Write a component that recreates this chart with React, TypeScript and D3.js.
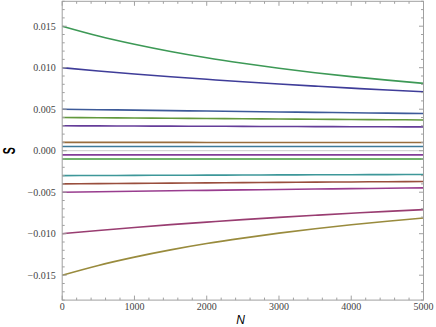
import React from "react";
import * as d3 from "d3";

const W = 436;
const H = 327;

const nValues = [0, 500, 1000, 1500, 2000, 2500, 3000, 3500, 4000, 4500, 5000];

const sPos015 = [0.015, 0.01382, 0.01282, 0.01195, 0.01119, 0.01053, 0.00993, 0.0094, 0.00893, 0.0085, 0.00811];
const sPos010 = [0.01, 0.00961, 0.00925, 0.00891, 0.0086, 0.0083, 0.00803, 0.00778, 0.00754, 0.00731, 0.0071];
const sPos005 = [0.005, 0.004942, 0.004885, 0.00483, 0.004776, 0.004723, 0.004671, 0.00462, 0.00457, 0.004522, 0.004474];
const sPos004 = [0.004, 0.003969, 0.003938, 0.003907, 0.003877, 0.003848, 0.003819, 0.00379, 0.003762, 0.003734, 0.003707];
const sPos003 = [0.003, 0.002986, 0.002972, 0.002958, 0.002945, 0.002931, 0.002918, 0.002905, 0.002892, 0.002879, 0.002866];
const sPos001 = [0.001, 0.000999, 0.000999, 0.000998, 0.000997, 0.000997, 0.000996, 0.000995, 0.000995, 0.000994, 0.000994];
const sPos0005 = [0.0005, 0.0005, 0.0005, 0.0005, 0.000499, 0.000499, 0.000499, 0.000499, 0.000499, 0.000499, 0.000499];
const neg = (a: number[]) => a.map((v) => -v);

const seriesValues = [
  sPos010, neg(sPos010), neg(sPos015), sPos015, sPos005, neg(sPos005),
  sPos001, neg(sPos001), sPos0005, neg(sPos0005), neg(sPos004), sPos004,
  neg(sPos003), sPos003,
];
const seriesColors = [
  "#3f3d99", "#993d71", "#998b3d", "#3d9956", "#3d5a99", "#993d8f",
  "#996d3d", "#43993d", "#3d7999", "#843d99", "#994e3d", "#62993d",
  "#3d9799", "#653d99",
];

const xTickLabels = [0, 1000, 2000, 3000, 4000, 5000];
const yTickLabels = [-0.015, -0.01, -0.005, 0, 0.005, 0.01, 0.015];

const SERIF = "'Liberation Serif', 'Times New Roman', serif";

export default function App() {
  const left = 62.2, right = 423.5, top = 1.3, bottom = 300.1;
  const x = d3.scaleLinear().domain([0, 5000]).range([left, right]);
  const y = d3.scaleLinear().domain([-0.018, 0.018]).range([bottom, top]);
  const line = d3
    .line<number>()
    .x((_, i) => x(nValues[i]))
    .y((d) => y(d))
    .curve(d3.curveMonotoneX);

  const frame = "#a0a0a0";
  const xMinor = d3.range(0, 5001, 200).filter((v) => v % 1000 !== 0);
  const yMinor = d3.range(-18, 19, 1).map((v) => v / 1000).filter((v) => Math.round(v * 1000) % 5 !== 0);
  const fmtY = d3.format(".3f");
  const majL = 4.5, minL = 2.5;

  return (
    <div style={{ position: "fixed", left: 0, top: 0 }}>
      <svg width={W} height={H} style={{ display: "block", background: "#fff" }}>
        <line x1={left} x2={right} y1={y(0)} y2={y(0)} stroke="#cfcfcf" strokeWidth={1} />
        {seriesValues.map((s, i) => (
          <path key={i} d={line(s) || ""} fill="none" stroke={seriesColors[i]} strokeWidth={1.6} />
        ))}
        <rect x={left} y={top} width={right - left} height={bottom - top} fill="none" stroke={frame} strokeWidth={1} />
        {xTickLabels.map((v) => (
          <g key={"xt" + v}>
            <line x1={x(v)} x2={x(v)} y1={bottom} y2={bottom - majL} stroke={frame} />
            <line x1={x(v)} x2={x(v)} y1={top} y2={top + majL} stroke={frame} />
            <text x={x(v)} y={bottom + 9.6} textAnchor="middle" style={{ fontFamily: SERIF }} fontSize={10} fill="#444">
              {v}
            </text>
          </g>
        ))}
        {xMinor.map((v) => (
          <g key={"xm" + v}>
            <line x1={x(v)} x2={x(v)} y1={bottom} y2={bottom - minL} stroke={frame} />
            <line x1={x(v)} x2={x(v)} y1={top} y2={top + minL} stroke={frame} />
          </g>
        ))}
        {yTickLabels.map((v) => (
          <g key={"yt" + v}>
            <line x1={left} x2={left + majL} y1={y(v)} y2={y(v)} stroke={frame} />
            <line x1={right} x2={right - majL} y1={y(v)} y2={y(v)} stroke={frame} />
            <text x={left - 6.5} y={y(v) + 3.3} textAnchor="end" style={{ fontFamily: SERIF }} fontSize={10} fill="#444">
              {fmtY(v)}
            </text>
          </g>
        ))}
        {yMinor.map((v) => (
          <g key={"ym" + v}>
            <line x1={left} x2={left + minL} y1={y(v)} y2={y(v)} stroke={frame} />
            <line x1={right} x2={right - minL} y1={y(v)} y2={y(v)} stroke={frame} />
          </g>
        ))}
        <text x={240.5} y={324.3} textAnchor="middle" fontFamily="Liberation Sans, Arial, sans-serif" fontStyle="italic" fontSize={12} fill="#000">
          N
        </text>
        <text
          transform={`translate(15.2, 150.8) rotate(-90)`}
          textAnchor="middle"
          fontFamily="Liberation Sans, Arial, sans-serif"
          fontSize={16}
          fontWeight="bold"
          textLength={7}
          lengthAdjust="spacingAndGlyphs"
          fill="#000"
        >
          S
        </text>
      </svg>
    </div>
  );
}
